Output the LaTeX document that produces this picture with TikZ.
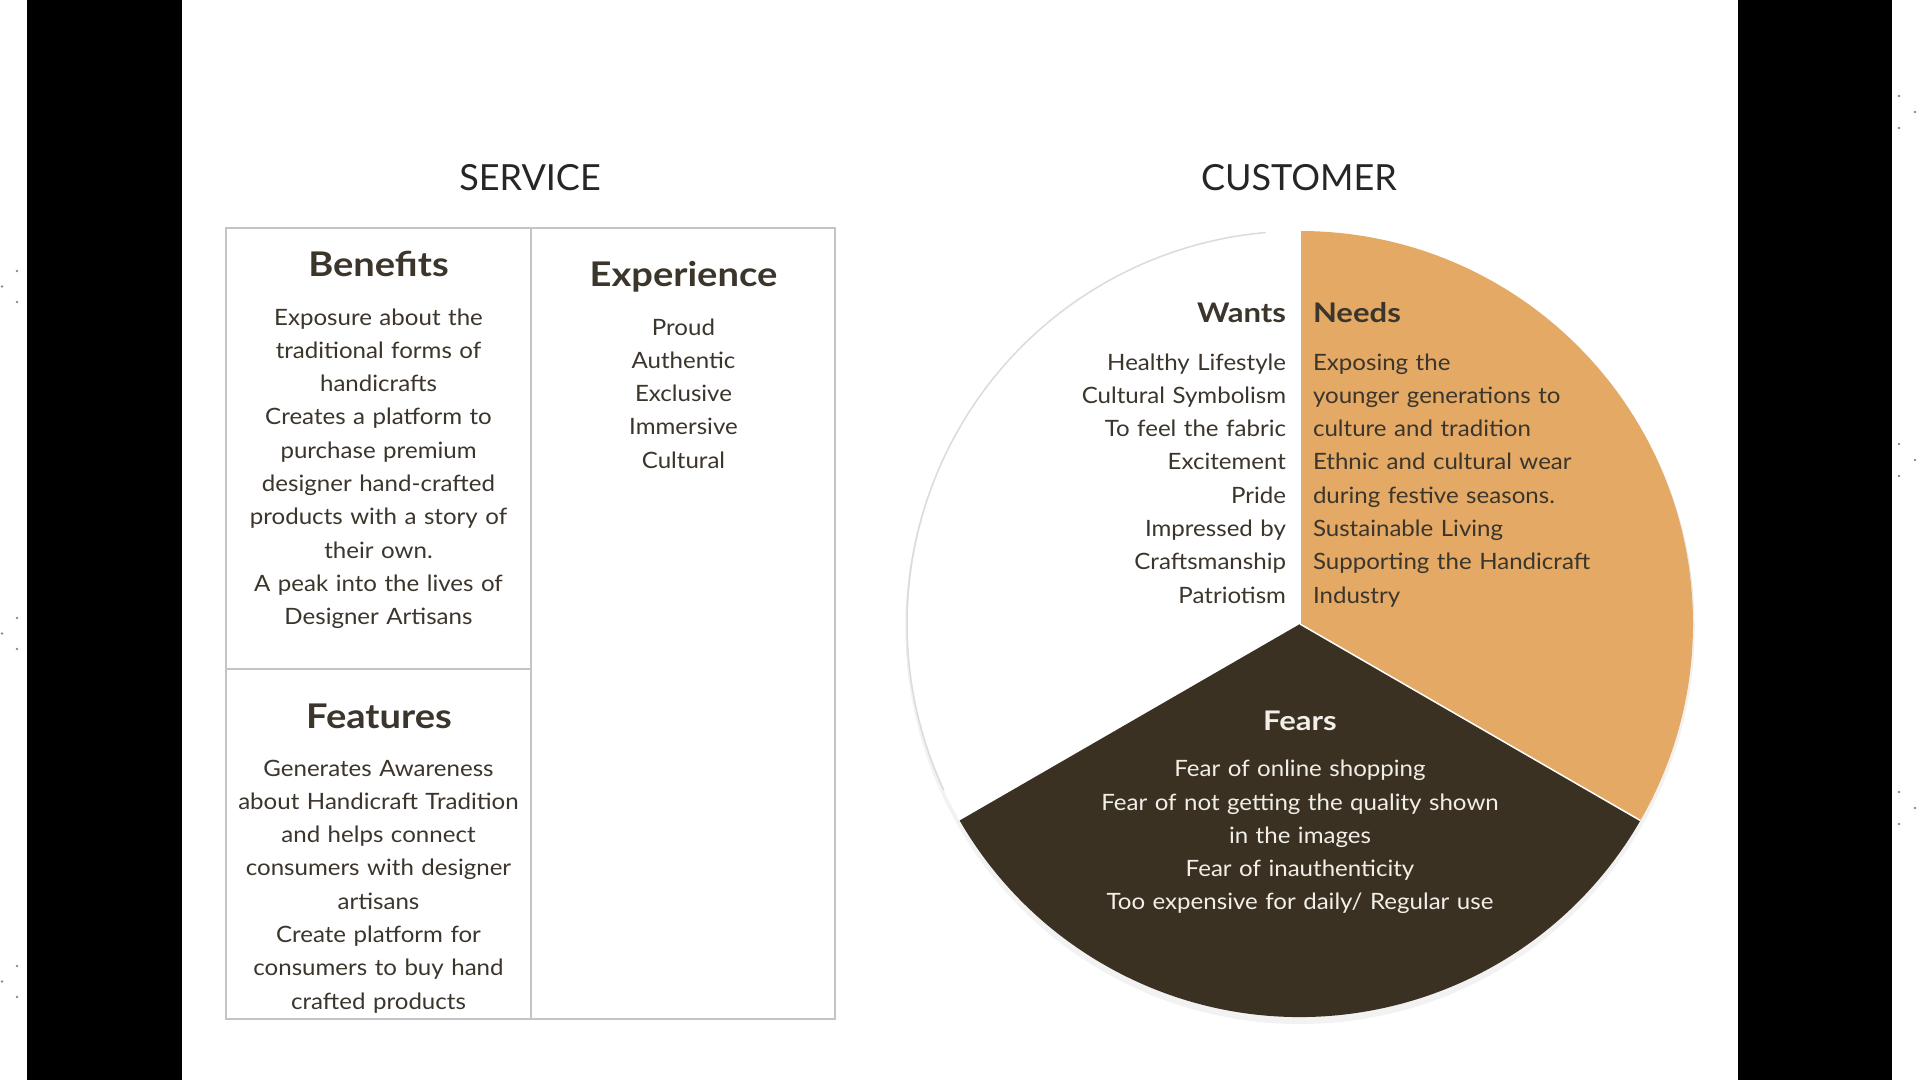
\documentclass[tikz,border=0pt]{standalone}
\usepackage{fontspec}
\usetikzlibrary{calc}
\setmainfont{Lato}
\newfontfamily\bodyfont[FakeStretch=1.07]{Lato}
\newfontfamily\headfont[FakeStretch=1.12]{Lato}
\newfontfamily\subfont[FakeStretch=1.15]{Lato}
\definecolor{txt}{HTML}{3B352C}
\definecolor{orng}{HTML}{E3A965}
\definecolor{drk}{HTML}{3A3122}
\definecolor{boxline}{HTML}{C4C4C4}
\definecolor{feartxt}{HTML}{F2EFE8}
\begin{document}
\begin{tikzpicture}[x=1pt,y=1pt,
  every node/.style={inner sep=0pt, outer sep=0pt},
  title/.style={font=\fontsize{36}{40}\selectfont, text=black!85},
  head/.style={font=\headfont\fontsize{34}{38}\bfseries\selectfont, text=txt},
  subhead/.style={font=\subfont\fontsize{27}{30}\bfseries\selectfont, text=txt},
  body/.style={font=\bodyfont\fontsize{22.5}{33.3}\selectfont, text=txt},
  frame/.style={draw=boxline, line width=2pt},
  dot/.style={fill=black!45},
  sep/.style={draw=white, line width=1.5pt}]
\useasboundingbox (0,0) rectangle (1920,-1080);
\fill[white] (0,0) rectangle (1920,-1080);
% side bars
\fill[black] (27,0) rectangle (182,-1080);
\fill[black] (1738,0) rectangle (1892,-1080);
% tiny dots
\foreach \y in {271,618,966}{
  \fill[dot] (17,-\y) circle (1.3);
  \fill[dot] (2,-\y-15.5) circle (1.3);
  \fill[dot] (17,-\y-31) circle (1.3);
}
\foreach \y in {96,444,792}{
  \fill[dot] (1899,-\y) circle (1.3);
  \fill[dot] (1915,-\y-16) circle (1.3);
  \fill[dot] (1899,-\y-32) circle (1.3);
}
% titles
\node[title, anchor=base] (svc) at (530,-190.5) {SERVICE};
\node[title, anchor=base] (cst) at (1299,-190.5) {CUSTOMER};
% service table
\draw[frame] (226,-228) rectangle (835,-1019);
\draw[frame] (531,-228) -- (531,-1019);
\draw[frame] (226,-669) -- (531,-669);
\node[head, anchor=base] (ben) at (378.5,-276) {Benefits};
\node[body, anchor=base, text width=300, align=center] (bent) at (378.5,-325)
  {Exposure about the\\ traditional forms of\\ handicrafts\\ Creates a platform to\\ purchase premium\\ designer hand-crafted\\ products with a story of\\ their own.\\ A peak into the lives of\\ Designer Artisans};
\node[head, anchor=base] (exp) at (683.5,-286.7) {Experience};
\node[body, anchor=base, text width=290, align=center] (expt) at (683.5,-335)
  {Proud\\ Authentic\\ Exclusive\\ Immersive\\ Cultural};
\node[head, anchor=base] (fea) at (379,-728.3) {Features};
\node[body, anchor=base, text width=300, align=center] (feat) at (378.5,-776)
  {Generates Awareness\\ about Handicraft Tradition\\ and helps connect\\ consumers with designer\\ artisans\\ Create platform for\\ consumers to buy hand\\ crafted products};
% customer pie
\coordinate (C) at (1300,-624);
\fill[black!10] (1300,-627) circle (394.5);
\fill[black!5] (1300,-630) circle (394);
\fill[white] (C) -- ++(210:393) arc[start angle=210, end angle=90, radius=393] -- cycle;
\draw[black!14, line width=1.5pt] ($(C)+(205:393)$) arc[start angle=205, end angle=95, radius=393];
\fill[orng] (C) -- ++(90:393) arc[start angle=90, end angle=-30, radius=393] -- cycle;
\fill[drk] (C) -- ++(-30:393) arc[start angle=-30, end angle=-150, radius=393] -- cycle;
\draw[sep] (C) -- ++(90:393);
\draw[sep] (C) -- ++(-30:393);
\node[subhead, anchor=base east] (wants) at (1286,-322.7) {Wants};
\node[body, anchor=base east, text width=340, align=right] (wantt) at (1286,-370)
  {Healthy Lifestyle\\ Cultural Symbolism\\ To feel the fabric\\ Excitement\\ Pride\\ Impressed by\\ Craftsmanship\\ Patriotism};
\node[subhead, anchor=base west] (needs) at (1313,-322.7) {Needs};
\node[body, anchor=base west, text width=340, align=left] (needt) at (1313,-370)
  {Exposing the\\ younger generations to\\ culture and tradition\\ Ethnic and cultural wear\\ during festive seasons.\\ Sustainable Living\\ Supporting the Handicraft\\ Industry};
\node[subhead, anchor=base, text=feartxt] (fears) at (1300,-730) {Fears};
\node[body, anchor=base, text=feartxt, text width=480, align=center] (feart) at (1300,-776.7)
  {Fear of online shopping\\ Fear of not getting the quality shown\\ in the images\\ Fear of inauthenticity\\ Too expensive for daily/ Regular use};
\end{tikzpicture}
\end{document}
